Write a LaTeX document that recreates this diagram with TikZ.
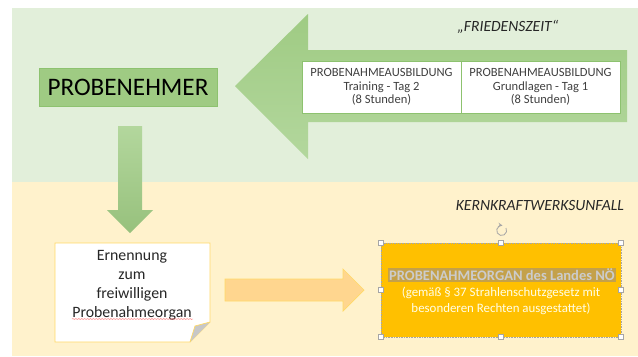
\documentclass[tikz,border=0pt]{standalone}
\usepackage{fontspec}
\setmainfont{Carlito}
\usetikzlibrary{decorations.pathmorphing}

\begin{document}
\begin{tikzpicture}[x=0.03cm, y=-0.03cm]
    \definecolor{peaceBg}{HTML}{E2EFDA}
    \definecolor{accidentBg}{HTML}{FFF2CC}
    \definecolor{arrowGreen}{HTML}{9FCB83}
    \definecolor{arrowGreenLight}{HTML}{B3D79D}
    \definecolor{boxGreen}{HTML}{8DC26F}
    \definecolor{noteBorder}{HTML}{FFD966}
    \definecolor{arrowOrange}{HTML}{FFD68F}
    \definecolor{organFill}{HTML}{FFC000}
    \definecolor{hiliteFill}{HTML}{C4A14A}
    \definecolor{handleGrey}{HTML}{A6A6A6}

    \tikzset{
        courseBox/.style={draw=boxGreen, fill=white, line width=0.6pt, align=center,
            minimum width=4.77cm, minimum height=1.56cm, inner sep=1pt,
            text=black!75, font=\fontsize{10.7}{11.6}\selectfont},
        personBox/.style={draw=boxGreen, fill=arrowGreen, line width=0.6pt,
            minimum width=5.34cm, minimum height=1.14cm,
            font=\fontsize{21.5}{24}\selectfont},
        noteText/.style={align=center, text=black!85, font=\fontsize{13.5}{16.2}\selectfont},
        organBox/.style={fill=organFill, draw=handleGrey, densely dotted, line width=0.4pt,
            minimum width=7.2cm, minimum height=2.82cm},
        organTitle/.style={fill=hiliteFill, text=white!80!black, inner sep=1pt,
            font=\fontsize{12.4}{14}\selectfont\bfseries},
        organText/.style={align=center, text=white!90!yellow, font=\fontsize{11}{13.6}\selectfont},
        phaseLabel/.style={font=\fontsize{13.3}{15}\selectfont\itshape, text=black!85},
        handle/.style={draw=handleGrey, fill=white, line width=0.4pt, minimum size=4.2pt, inner sep=0pt}
    }

    \useasboundingbox (0,0) rectangle (638,356);

    % Draw background bands
    \fill[white] (0,0) rectangle (638,356);
    \fill[peaceBg] (12,8) rectangle (638,182);
    \fill[accidentBg] (12,182) rectangle (638,356);

    \node[phaseLabel] (peace) at (508,27) {„FRIEDENSZEIT“};
    \node[phaseLabel, anchor=east] (accident) at (628,206) {KERNKRAFTWERKSUNFALL};

    % Big training arrow pointing left
    \coordinate (tip) at (235,86);
    \shade[top color=arrowGreen, bottom color=arrowGreenLight]
        (tip) -- (308,14) -- (308,50) -- (627,50) -- (627,122) -- (308,122) -- (308,159) -- cycle;

    \node[courseBox] (dayTwo) at (381.5,87) {PROBENAHMEAUSBILDUNG\\Training - Tag 2\\(8 Stunden)};
    \node[courseBox] (dayOne) at (540.5,87) {PROBENAHMEAUSBILDUNG\\Grundlagen - Tag 1\\(8 Stunden)};

    \node[personBox] (sampler) at (128,87) {PROBENEHMER};

    % Arrow down to the appointment
    \shade[top color=arrowGreenLight, bottom color=arrowGreen!95!black]
        (118,126) -- (142,126) -- (142,210) -- (153,210) -- (130,233) -- (107,210) -- (118,210) -- cycle;

    % Appointment note with folded corner
    \filldraw[fill=white, draw=noteBorder, line width=0.6pt]
        (55,243) -- (210,243) -- (210,322) -- (190,342) -- (55,342) -- cycle;
    \filldraw[fill=black!22, draw=noteBorder, line width=0.6pt] (210,322) -- (195,326) -- (190,342);
    \node[noteText] (appoint) at (132,285) {Ernennung\\zum\\freiwilligen\\Probenahmeorgan};
    \draw[red!60, line width=0.4pt, decorate, decoration={snake, amplitude=0.35pt, segment length=2.5pt}]
        (72,319) -- (193,319);

    % Arrow to the sampling organ
    \filldraw[fill=arrowOrange, draw=noteBorder, line width=0.6pt]
        (225,279) -- (343,279) -- (343,269) -- (364,290) -- (343,311) -- (343,301) -- (225,301) -- cycle;

    % Sampling organ box (selected)
    \node[organBox] (organ) at (501,290) {};
    \node[organTitle] (organHead) at (502,275) {PROBENAHMEORGAN des Landes NÖ};
    \node[organText] (organNote) at (501,301) {(gemäß § 37 Strahlenschutzgesetz mit\\besonderen Rechten ausgestattet)};

    % Selection handles
    \foreach \hx/\hy/\hn in {381/243/nw, 501/243/n, 621/243/ne, 381/290/w, 621/290/e, 381/337/sw, 501/337/s, 621/337/se}
        \node[handle] (h\hn) at (\hx,\hy) {};
    \draw[handleGrey, line width=0.7pt, ->, >=stealth] (506,228) arc (-30:280:5);

\end{tikzpicture}
\end{document}
